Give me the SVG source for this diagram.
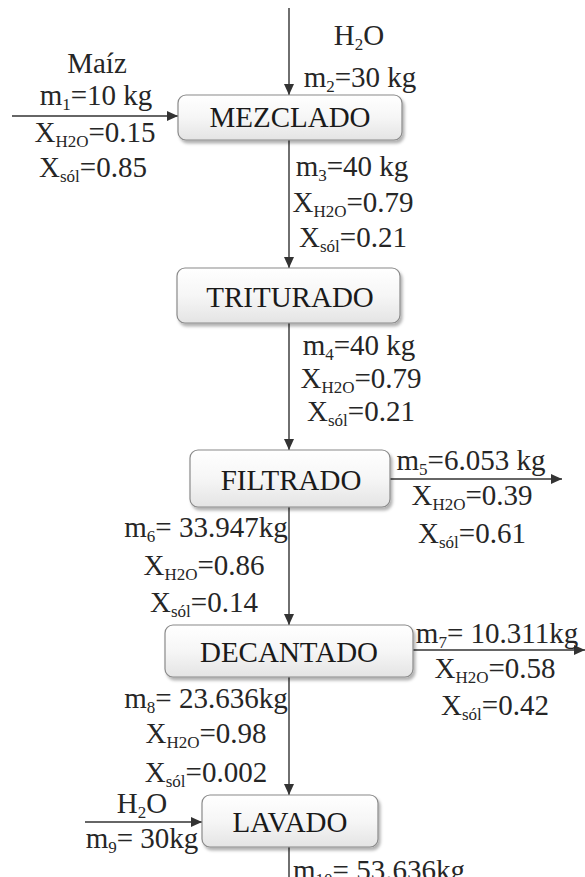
<svg xmlns="http://www.w3.org/2000/svg" width="585" height="877" viewBox="0 0 585 877">
<style>
  text{font-family:"Liberation Serif","Times New Roman",serif;font-size:29px;fill:#262626}
  .b{fill:#1a1a1a;text-anchor:middle}
  .c{text-anchor:middle}
  .s{font-size:17px}
  .box{fill:url(#g);stroke:#8a8a8a;stroke-width:1.2;filter:url(#sh)}
  .ln{stroke:#333;stroke-width:1.4;fill:none}
</style>
<defs>
  <linearGradient id="g" x1="0" y1="0" x2="0" y2="1">
    <stop offset="0" stop-color="#ffffff"/>
    <stop offset="0.5" stop-color="#f6f6f6"/>
    <stop offset="1" stop-color="#e4e4e4"/>
  </linearGradient>
  <filter id="sh" x="-10%" y="-20%" width="125%" height="150%">
    <feDropShadow dx="2" dy="3" stdDeviation="1.5" flood-color="#000" flood-opacity="0.3"/>
  </filter>
  <marker id="a" markerUnits="userSpaceOnUse" markerWidth="12" markerHeight="10" refX="11" refY="5" orient="auto">
    <path d="M0,0 L11,5 L0,10 Z" fill="#333"/>
  </marker>
</defs>

<g id="connectors">
  <line class="ln" x1="289" y1="8" x2="289" y2="95" marker-end="url(#a)"/>
  <line class="ln" x1="12" y1="116" x2="178" y2="116" marker-end="url(#a)"/>
  <line class="ln" x1="289" y1="140" x2="289" y2="268" marker-end="url(#a)"/>
  <line class="ln" x1="289" y1="323" x2="289" y2="450" marker-end="url(#a)"/>
  <line class="ln" x1="390" y1="479" x2="562" y2="479" marker-end="url(#a)"/>
  <line class="ln" x1="289" y1="507" x2="289" y2="625" marker-end="url(#a)"/>
  <line class="ln" x1="413" y1="650" x2="585" y2="650" marker-end="url(#a)"/>
  <line class="ln" x1="289" y1="677" x2="289" y2="795" marker-end="url(#a)"/>
  <line class="ln" x1="85" y1="822" x2="202" y2="822" marker-end="url(#a)"/>
  <line class="ln" x1="289" y1="847" x2="289" y2="877"/>
</g>

<g id="mezclado">
  <rect class="box" x="178" y="95" width="224" height="45" rx="8"/>
  <text class="b" x="290" y="127">MEZCLADO</text>
</g>
<g id="triturado">
  <rect class="box" x="177" y="268" width="223" height="55" rx="8"/>
  <text class="b" x="290" y="307">TRITURADO</text>
</g>
<g id="filtrado">
  <rect class="box" x="190" y="450" width="200" height="57" rx="8"/>
  <text class="b" x="291" y="490">FILTRADO</text>
</g>
<g id="decantado">
  <rect class="box" x="165" y="625" width="248" height="52" rx="8"/>
  <text class="b" x="289" y="662">DECANTADO</text>
</g>
<g id="lavado">
  <rect class="box" x="202" y="795" width="176" height="52" rx="8"/>
  <text class="b" x="290" y="832">LAVADO</text>
</g>

<g id="labels">
  <text class="c" x="359" y="45">H<tspan class="s" dy="5">2</tspan><tspan dy="-5">O</tspan></text>
  <text class="c" x="360" y="87">m<tspan class="s" dy="5">2</tspan><tspan dy="-5">=30 kg</tspan></text>

  <text class="c" x="97" y="73">Maíz</text>
  <text class="c" x="96" y="105">m<tspan class="s" dy="5">1</tspan><tspan dy="-5">=10 kg</tspan></text>
  <text class="c" x="95" y="142">X<tspan class="s" dy="5">H2O</tspan><tspan dy="-5">=0.15</tspan></text>
  <text class="c" x="93" y="177">X<tspan class="s" dy="5">sól</tspan><tspan dy="-5">=0.85</tspan></text>

  <text class="c" x="352" y="176">m<tspan class="s" dy="5">3</tspan><tspan dy="-5">=40 kg</tspan></text>
  <text class="c" x="353" y="212">X<tspan class="s" dy="5">H2O</tspan><tspan dy="-5">=0.79</tspan></text>
  <text class="c" x="353" y="247">X<tspan class="s" dy="5">sól</tspan><tspan dy="-5">=0.21</tspan></text>

  <text class="c" x="359" y="355">m<tspan class="s" dy="5">4</tspan><tspan dy="-5">=40 kg</tspan></text>
  <text class="c" x="361" y="388">X<tspan class="s" dy="5">H2O</tspan><tspan dy="-5">=0.79</tspan></text>
  <text class="c" x="361" y="421">X<tspan class="s" dy="5">sól</tspan><tspan dy="-5">=0.21</tspan></text>

  <text class="c" x="471" y="470">m<tspan class="s" dy="5">5</tspan><tspan dy="-5">=6.053 kg</tspan></text>
  <text class="c" x="472" y="505">X<tspan class="s" dy="5">H2O</tspan><tspan dy="-5">=0.39</tspan></text>
  <text class="c" x="472" y="543">X<tspan class="s" dy="5">sól</tspan><tspan dy="-5">=0.61</tspan></text>

  <text class="c" x="206" y="537">m<tspan class="s" dy="5">6</tspan><tspan dy="-5">= 33.947kg</tspan></text>
  <text class="c" x="204" y="575">X<tspan class="s" dy="5">H2O</tspan><tspan dy="-5">=0.86</tspan></text>
  <text class="c" x="204" y="612">X<tspan class="s" dy="5">sól</tspan><tspan dy="-5">=0.14</tspan></text>

  <text class="c" x="497" y="643">m<tspan class="s" dy="5">7</tspan><tspan dy="-5">= 10.311kg</tspan></text>
  <text class="c" x="495" y="678">X<tspan class="s" dy="5">H2O</tspan><tspan dy="-5">=0.58</tspan></text>
  <text class="c" x="495" y="715">X<tspan class="s" dy="5">sól</tspan><tspan dy="-5">=0.42</tspan></text>

  <text class="c" x="206" y="708">m<tspan class="s" dy="5">8</tspan><tspan dy="-5">= 23.636kg</tspan></text>
  <text class="c" x="206" y="743">X<tspan class="s" dy="5">H2O</tspan><tspan dy="-5">=0.98</tspan></text>
  <text class="c" x="206" y="782">X<tspan class="s" dy="5">sól</tspan><tspan dy="-5">=0.002</tspan></text>

  <text class="c" x="142" y="813">H<tspan class="s" dy="5">2</tspan><tspan dy="-5">O</tspan></text>
  <text class="c" x="142" y="848">m<tspan class="s" dy="5">9</tspan><tspan dy="-5">= 30kg</tspan></text>

  <text class="c" x="379" y="880">m<tspan class="s" dy="5">10</tspan><tspan dy="-5">= 53.636kg</tspan></text>
</g>
</svg>
